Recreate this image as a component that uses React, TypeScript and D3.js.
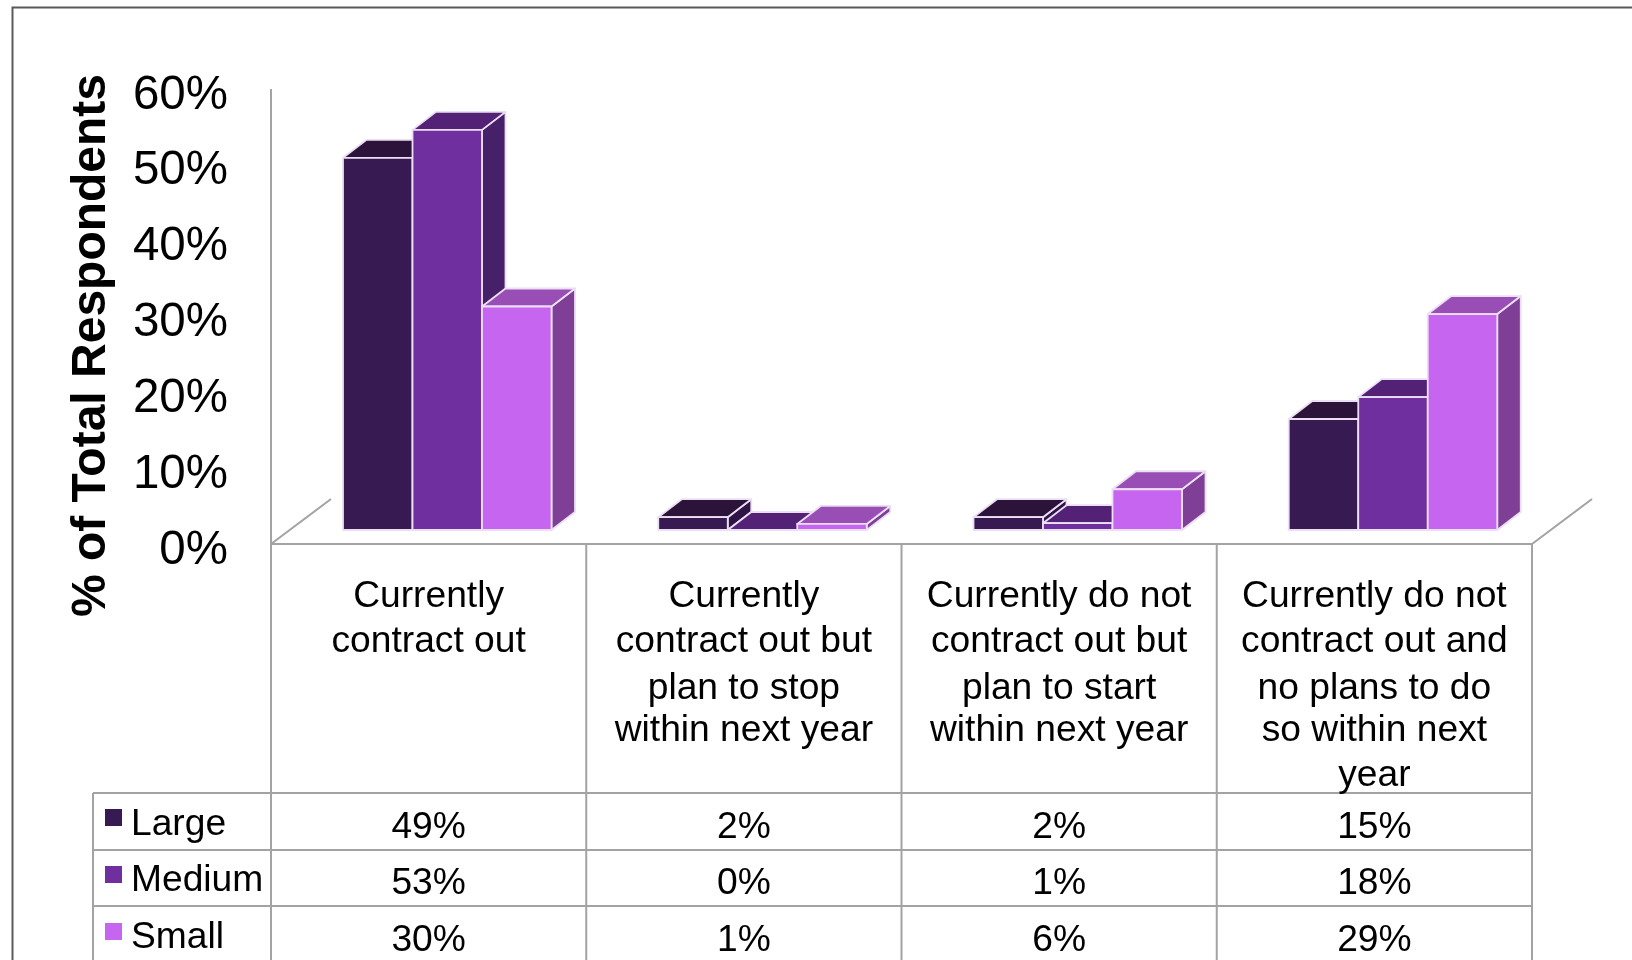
import React from "react";
import * as d3 from "d3";

const categories = [
  ["Currently", "contract out"],
  ["Currently", "contract out but", "plan to stop", "within next year"],
  ["Currently do not", "contract out but", "plan to start", "within next year"],
  ["Currently do not", "contract out and", "no plans to do", "so within next", "year"],
];
const seriesNames = ["Large", "Medium", "Small"];
// labels printed in the data table
const largeLabels = ["49%", "2%", "2%", "15%"];
const mediumLabels = ["53%", "0%", "1%", "18%"];
const smallLabels = ["30%", "1%", "6%", "29%"];
// bar heights
const large = [49.3, 1.7, 1.7, 14.7];
const medium = [53.0, 0, 0.9, 17.6];
const small = [29.6, 0.8, 5.4, 28.6];
const seriesValues = [large, medium, small];
const seriesLabels = [largeLabels, mediumLabels, smallLabels];
const tickValues = [0, 10, 20, 30, 40, 50, 60];
const frontColors = ["#381a52", "#6f2f9f", "#c665ef"];
const topColors = ["#2c1339", "#532277", "#984eb4"];
const sideColors = ["#2e1545", "#47206a", "#7f3f97"];

const GRID = "#a3a3a3";
const FONT = "'Liberation Sans', Arial, sans-serif";
const axisX = 271;
const floorY = 544;
const depthX = 23.5;
const depthY = 18;

const yBar = d3.scaleLinear().domain([0, 60]).range([530, 77]);
const yTick = d3.scaleLinear().domain([0, 60]).range([563.5, 108.5]);
const xCat = d3.scaleBand<number>().domain(d3.range(categories.length)).range([axisX, 1532]);
const xBar = d3.scaleBand<number>().domain(d3.range(seriesNames.length)).range([72, 280.5]);
const rowLines = [793, 850, 906];
const rowText = [838, 894, 951];
const legendText = [835, 891, 948];
const swatchY = [809, 866, 923];
const lineBaselines = [607, 652, 699, 741, 786];
const pt = (p: number[][]) => d3.line()(p as [number, number][]) + "Z";

export default function App() {
  const bars: React.ReactNode[] = [];
  categories.forEach((_, c) => {
    seriesValues.forEach((vals, s) => {
      const x0 = xCat(c)! + xBar(s)!;
      const x1 = x0 + xBar.bandwidth();
      const yT = yBar(vals[c]);
      const yB = yBar(0);
      bars.push(
        <g key={`${c}-${s}`} stroke="#ecdff4" strokeWidth={1.8} strokeLinejoin="round">
          <path d={pt([[x1, yT], [x1 + depthX, yT - depthY], [x1 + depthX, yB - depthY], [x1, yB]])} fill={sideColors[s]} />
          <path d={pt([[x0, yT], [x0 + depthX, yT - depthY], [x1 + depthX, yT - depthY], [x1, yT]])} fill={topColors[s]} />
          <path d={pt([[x0, yT], [x1, yT], [x1, yB], [x0, yB]])} fill={frontColors[s]} />
        </g>
      );
    });
  });
  return (
    <svg width={1632} height={960} style={{ position: "absolute", left: 0, top: 0, display: "block", background: "#fff" }} fontFamily={FONT}>
      <g style={{ filter: "blur(0.6px)" }}>
        <path d="M12.5 960V7.5H1632" fill="none" stroke="#5a5a5a" strokeWidth={2} />
        <g stroke={GRID} strokeWidth={2} fill="none">
          <line x1={axisX} x2={axisX} y1={89} y2={960} />
          <line x1={axisX} x2={1532} y1={floorY} y2={floorY} />
          <line x1={axisX} y1={floorY} x2={331} y2={499} />
          <line x1={1532} y1={floorY} x2={1592} y2={499} />
          {categories.map((_, i) => (
            <line key={i} x1={xCat(i)! + xCat.bandwidth()} x2={xCat(i)! + xCat.bandwidth()} y1={floorY} y2={960} />
          ))}
          {rowLines.map((y) => (
            <line key={y} x1={93} x2={1532} y1={y} y2={y} />
          ))}
          <line x1={93} x2={93} y1={793} y2={960} />
        </g>
        {bars}
        {tickValues.map((t) => (
          <text key={t} x={228} y={yTick(t)} textAnchor="end" fontSize={47.5} fill="#000">{t}%</text>
        ))}
        <text transform="translate(104.5,345.5) rotate(-90)" textAnchor="middle" fontSize={48} fontWeight="bold" fill="#000">% of Total Respondents</text>
        {categories.map((lines, c) => (
          <text key={c} textAnchor="middle" fontSize={37.2} fill="#000">
            {lines.map((l, i) => (
              <tspan key={i} x={xCat(c)! + xCat.bandwidth() / 2} y={lineBaselines[i]}>{l}</tspan>
            ))}
          </text>
        ))}
        {seriesNames.map((n, s) => (
          <g key={n}>
            <rect x={105} y={swatchY[s]} width={17} height={17} fill={frontColors[s]} />
            <text x={131} y={legendText[s]} fontSize={37.2} fill="#000">{n}</text>
            {seriesLabels[s].map((v, c) => (
              <text key={c} x={xCat(c)! + xCat.bandwidth() / 2} y={rowText[s]} textAnchor="middle" fontSize={37.2} fill="#000">{v}</text>
            ))}
          </g>
        ))}
      </g>
    </svg>
  );
}
